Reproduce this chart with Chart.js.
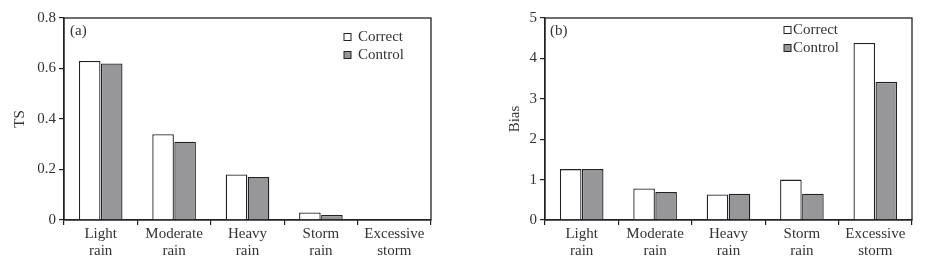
<!DOCTYPE html>
<html>
<head>
<meta charset="utf-8">
<script src="https://cdn.jsdelivr.net/npm/chart.js@4.4.0/dist/chart.umd.min.js"></script>
<style>
  body { margin: 0; background: #fff; }
  .wrap { display: flex; width: 938px; height: 267px; }
  canvas { display: block; }
</style>
</head>
<body>
<div class="wrap">
  <canvas id="chartTS" width="469" height="267"></canvas>
  <canvas id="chartBias" width="469" height="267"></canvas>
</div>
<script>
// Data
const categories = [['Light', 'rain'], ['Moderate', 'rain'], ['Heavy', 'rain'], ['Storm', 'rain'], ['Excessive', 'storm']];
const seriesNames = ['Correct', 'Control'];

const tsCorrect = [0.63, 0.34, 0.18, 0.03, 0];
const tsControl = [0.62, 0.31, 0.17, 0.02, 0];
const tsTicks = [0, 0.2, 0.4, 0.6, 0.8];

const biasCorrect = [1.26, 0.78, 0.63, 1.0, 4.38];
const biasControl = [1.26, 0.69, 0.65, 0.65, 3.42];
const biasTicks = [0, 1, 2, 3, 4, 5];

const FONT = "'Liberation Serif', 'Times New Roman', serif";
const INK = '#222';
const GREY = '#97979a';

// box frame, panel tag and small legend inside the plot
const framePlugin = {
    id: 'frame',
    afterDraw(chart, args, opts) {
        const { ctx, chartArea } = chart;
        ctx.save();
        ctx.strokeStyle = INK;
        ctx.lineWidth = 1.3;
        ctx.strokeRect(chartArea.left, chartArea.top, chartArea.right - chartArea.left, chartArea.bottom - chartArea.top);

        ctx.fillStyle = '#333';
        ctx.font = '15px ' + FONT;
        ctx.textBaseline = 'middle';
        ctx.fillText(opts.tag, chartArea.left + opts.tagDx, chartArea.top + 13);

        chart.data.datasets.forEach((ds, i) => {
            const y = chartArea.top + opts.legendDy + i * 18;
            const bx = chartArea.right - opts.legendDx;
            ctx.fillStyle = ds.backgroundColor;
            ctx.fillRect(bx, y - 3.5, 7, 7);
            ctx.strokeStyle = INK;
            ctx.lineWidth = 1;
            ctx.strokeRect(bx, y - 3.5, 7, 7);
            ctx.fillStyle = '#333';
            ctx.fillText(ds.label, bx + opts.textGap, y);
        });
        ctx.restore();
    }
};

function makeChart(id, correct, control, ticks, yTitle, yWidth, padLeft, padRight, frameOpts) {
    const ctx = document.getElementById(id).getContext('2d');
    return new Chart(ctx, {
        type: 'bar',
        data: {
            labels: categories,
            datasets: [
                { label: seriesNames[0], data: correct, backgroundColor: '#ffffff', borderColor: INK, borderWidth: 1.3 },
                { label: seriesNames[1], data: control, backgroundColor: GREY, borderColor: INK, borderWidth: 1.3 }
            ]
        },
        options: {
            responsive: false,
            animation: false,
            layout: { padding: { left: padLeft, right: padRight, top: 18, bottom: 0 } },
            datasets: { bar: { categoryPercentage: 0.6, barPercentage: 0.98 } },
            plugins: {
                legend: { display: false },
                tooltip: { enabled: false },
                frame: frameOpts
            },
            scales: {
                x: {
                    grid: { display: true, drawOnChartArea: false, offset: true, tickLength: 5, color: INK, lineWidth: 1.2 },
                    border: { color: INK, width: 1.3 },
                    ticks: { color: '#333', padding: 0, maxRotation: 0, font: { family: FONT, size: 15, lineHeight: 1.15 } },
                    afterFit(scale) { scale.height = 47; }
                },
                y: {
                    min: ticks[0],
                    max: ticks[ticks.length - 1],
                    afterBuildTicks(scale) { scale.ticks = ticks.map(v => ({ value: v })); },
                    grid: { display: true, drawOnChartArea: false, tickLength: 5, color: INK, lineWidth: 1.2 },
                    border: { color: INK, width: 1.3 },
                    ticks: { color: '#333', padding: 3, font: { family: FONT, size: 15 }, callback: v => String(v) },
                    title: { display: true, text: yTitle, color: '#333', padding: 4, font: { family: FONT, size: 15 } },
                    afterFit(scale) { scale.width = yWidth; }
                }
            }
        },
        plugins: [framePlugin]
    });
}

makeChart('chartTS', tsCorrect, tsControl, tsTicks, 'TS', 57, 7, 38,
    { tag: '(a)', tagDx: 6, legendDx: 87, legendDy: 19, textGap: 14 });
makeChart('chartBias', biasCorrect, biasControl, biasTicks, 'Bias', 43, 33, 26,
    { tag: '(b)', tagDx: 5, legendDx: 128, legendDy: 12, textGap: 9 });
</script>
</body>
</html>
